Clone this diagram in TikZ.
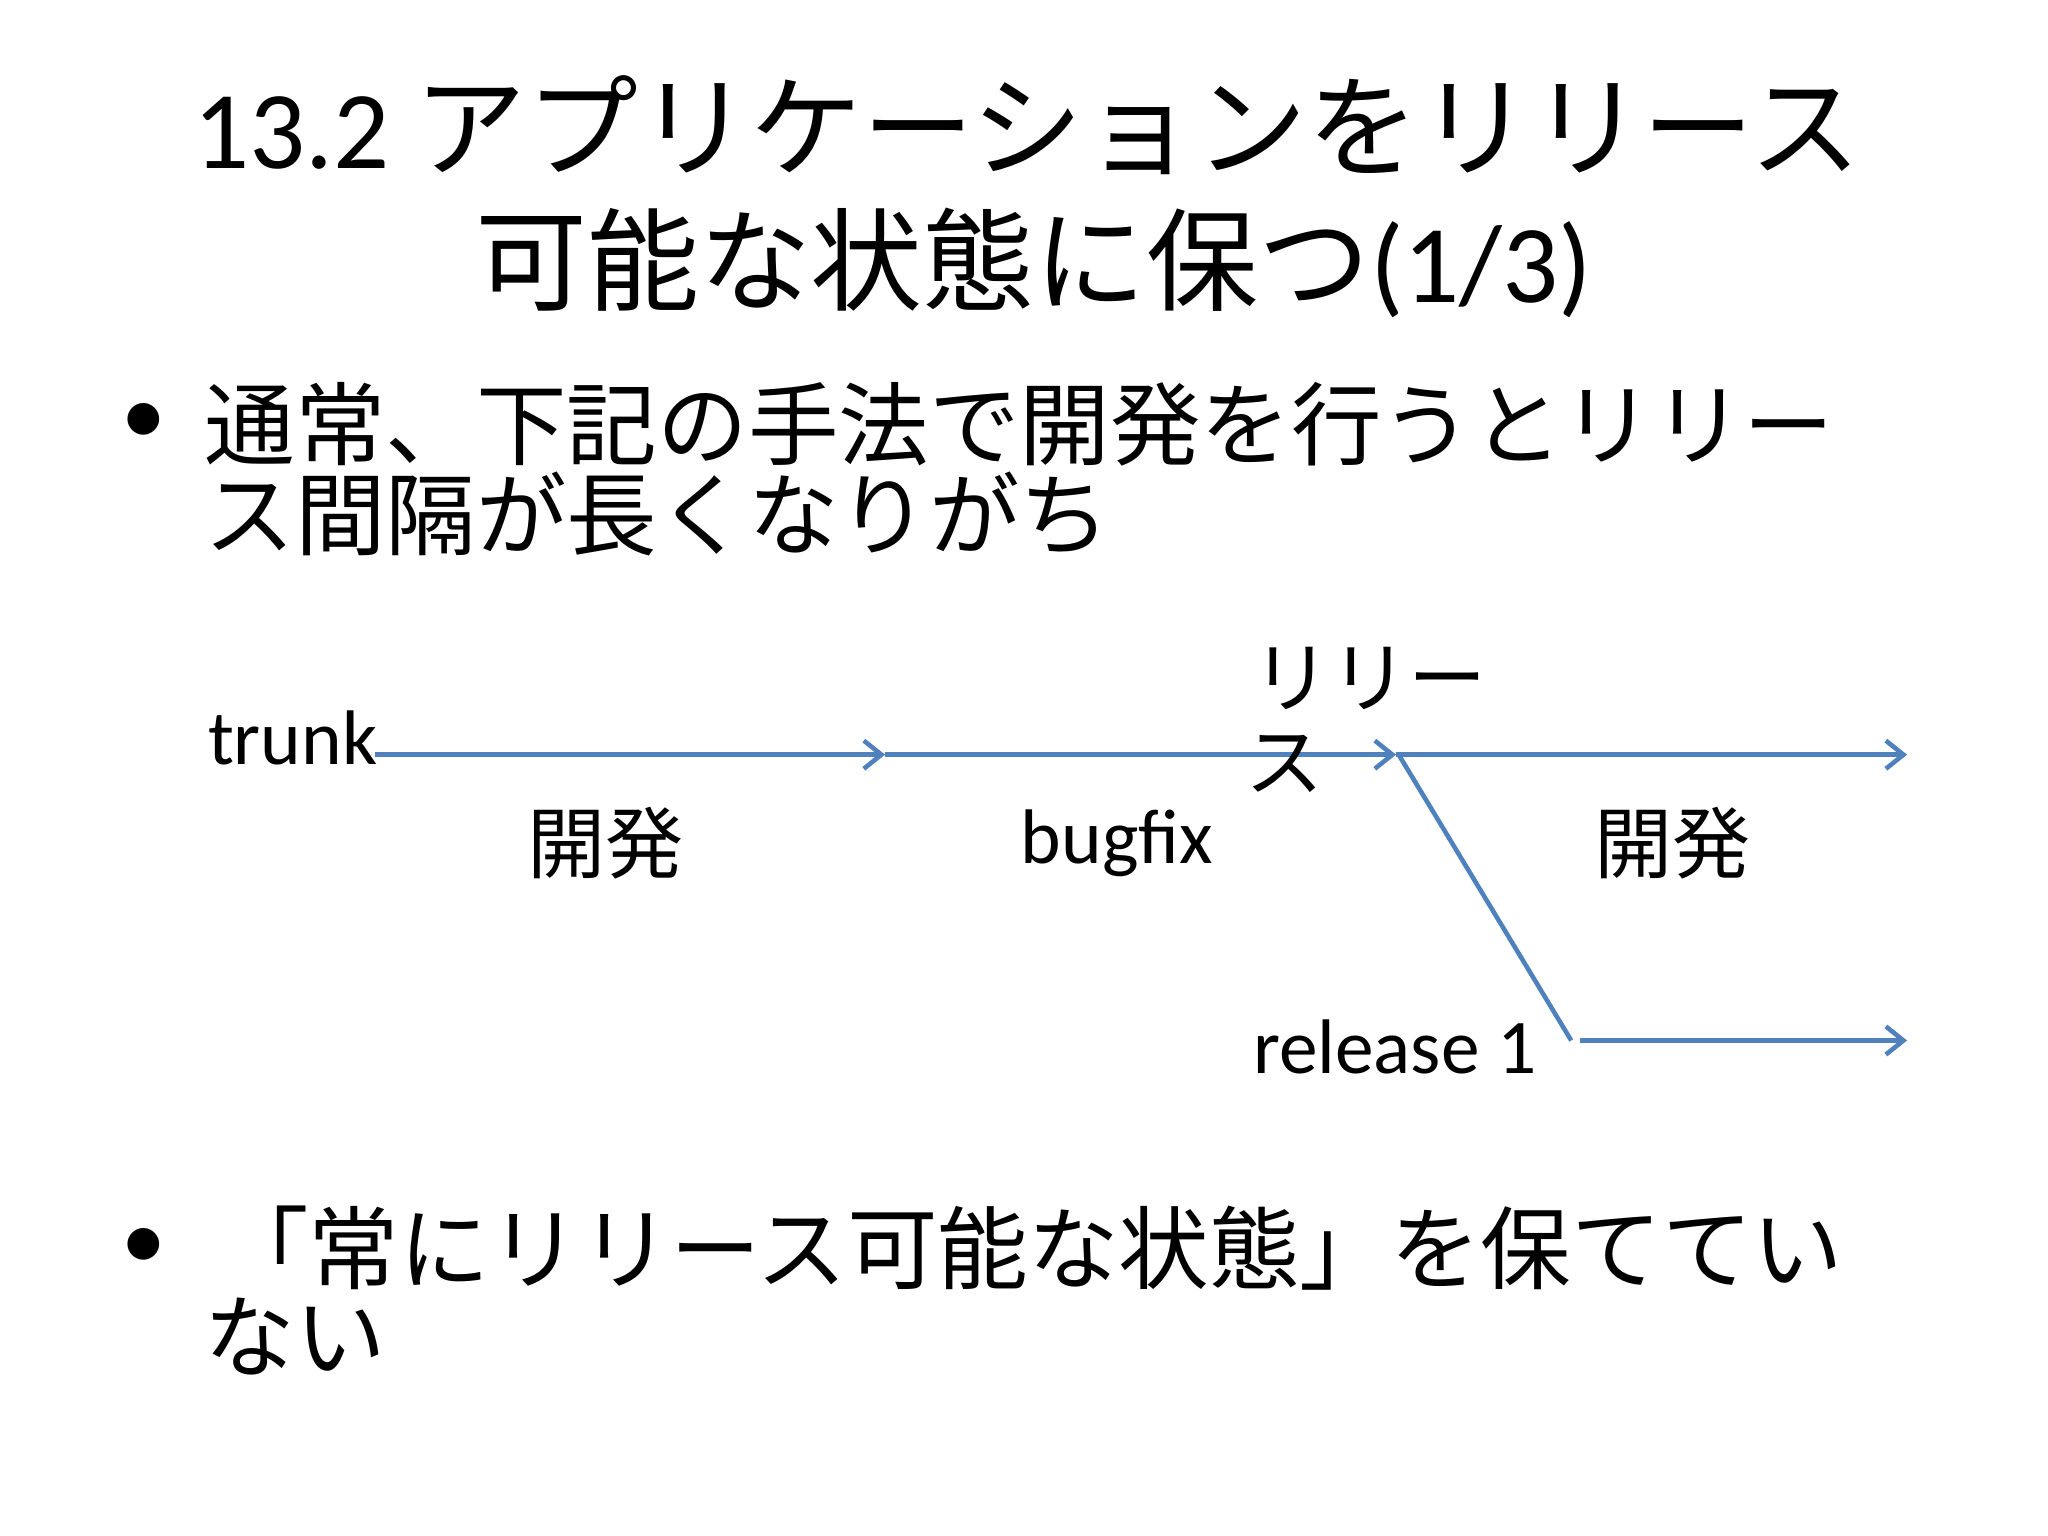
\documentclass[tikz,border=0pt]{standalone}
\usepackage{fontspec}
\setmainfont{Carlito}
\newfontfamily\cjk{Noto Sans CJK JP}[Scale=1.01]
\usetikzlibrary{arrows.meta}
\begin{document}
\begin{tikzpicture}[x=0.01317cm,y=-0.01317cm,
  flow/.style={draw={rgb,255:red,79;green,129;blue,189},line width=1.3pt,-{Straight Barb[length=5pt,width=8pt]}},
  plain/.style={draw={rgb,255:red,79;green,129;blue,189},line width=1.3pt},
  ttl/.style={font=\fontsize{31.5}{34}\selectfont,inner sep=0pt},
  body/.style={font=\fontsize{25.5}{28}\selectfont,inner sep=0pt,anchor=west},
  lbl/.style={font=\fontsize{22}{25}\selectfont,inner sep=0pt}]
\useasboundingbox[fill=white] (0,0) rectangle (1555,1166);
\node[ttl] (t1) at (780,95) {13.2 {\cjk アプリケーションをリリース}};
\node[ttl] (t2) at (785,200) {{\cjk 可能な状態に保つ}(1/3)};
\node[body] (b1) at (92,322) {•};
\node[body] (l1) at (155,322) {\cjk 通常、下記の手法で開発を行うとリリー};
\node[body] (l2) at (155,390) {\cjk ス間隔が長くなりがち};
\node[body] (b2) at (92,948) {•};
\node[body] (l3) at (165,948) {\cjk 「常にリリース可能な状態」を保ててい};
\node[body] (l4) at (155,1015) {\cjk ない};
\coordinate (a0) at (285,573);
\coordinate (a1) at (672,573);
\coordinate (a2) at (1060,573);
\coordinate (a3) at (1448,573);
\coordinate (r0) at (1193,790);
\coordinate (r1) at (1200,790);
\coordinate (r2) at (1448,790);
\node[lbl,anchor=east] (trunk) at (287,560) {trunk};
\draw[flow] (a0) -- (a1);
\draw[flow] (a1) -- (a2);
\draw[flow] (a2) -- (a3);
\draw[plain] (1062,573) -- (r0);
\draw[flow] (r1) -- (r2);
\node[lbl] (d1) at (460,640) {\cjk 開発};
\node[lbl] (bf) at (848,640) {bugfix};
\node[lbl] (d2) at (1270,640) {\cjk 開発};
\node[lbl] (rl1) at (1040,515) {\cjk リリー};
\node[lbl] (rl2) at (975,580) {\cjk ス};
\node[lbl,anchor=east] (rel) at (1167,795) {release 1};
\end{tikzpicture}
\end{document}
